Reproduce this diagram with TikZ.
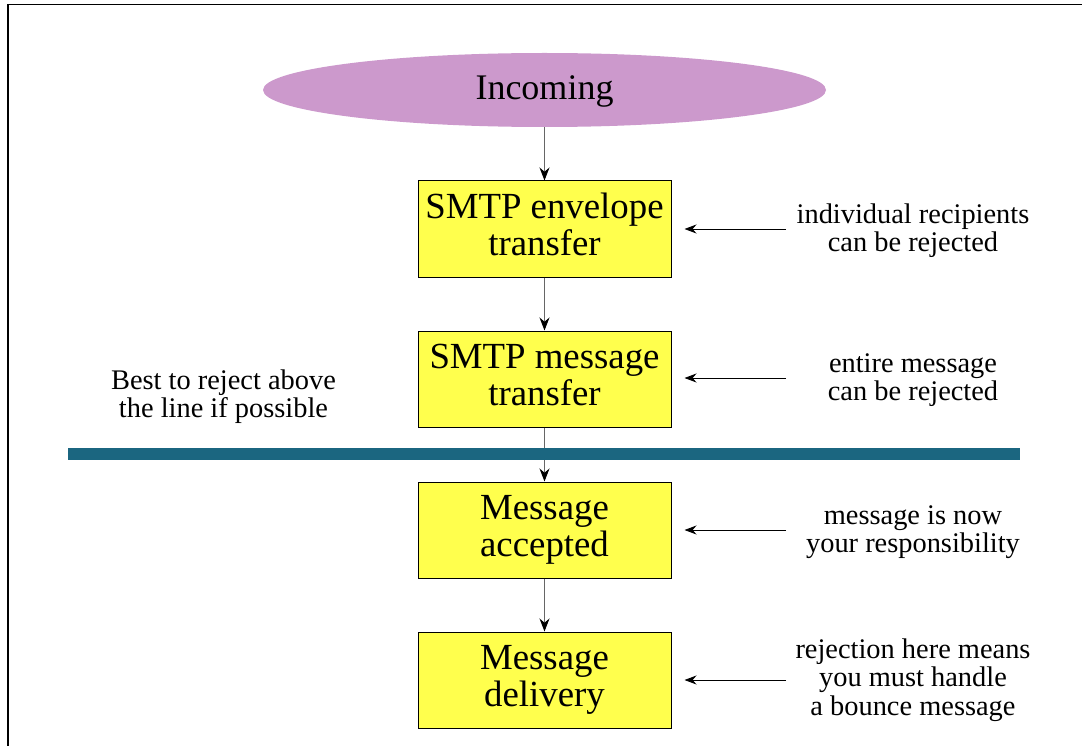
\documentclass[tikz,border=0pt]{standalone}
\usepackage{fontspec}
\setmainfont{Liberation Serif}
\usetikzlibrary{arrows.meta,shapes.geometric}
\definecolor{ellfill}{RGB}{204,153,204}
\definecolor{boxfill}{RGB}{255,255,77}
\definecolor{teal2}{RGB}{27,102,128}
\tikzset{
  stepbox/.style={draw=black,line width=1pt,fill=boxfill,minimum width=253pt,minimum height=96pt},
  boxtext/.style={anchor=base,align=center,inner sep=0pt,font=\fontsize{36.8}{37.5}\selectfont},
  sidelabel/.style={anchor=base,align=center,inner sep=0pt,font=\fontsize{28.4}{28.5}\selectfont},
  flow/.style={draw=black!60,line width=1pt,-{Stealth[black,length=13pt,width=10pt]}},
  sidearrow/.style={draw=black,line width=0.9pt,-{Stealth[black,length=12pt,width=9pt]},shorten >=13pt}
}
\begin{document}
\begin{tikzpicture}[x=1pt,y=-1pt]
\useasboundingbox (0,0) rectangle (1089,746);
% frame
\draw[line width=1.5pt,black] (8,746) -- (8,4.5) -- (1082,4.5);
% ellipse
\node[ellipse,fill=ellfill,minimum width=563pt,minimum height=74pt,inner sep=0pt] (inc) at (544.5,90) {};
\node[anchor=base,inner sep=0pt,font=\fontsize{36}{38}\selectfont] (inct) at (544.5,100) {Incoming};
% boxes
\node[stepbox] (b1) at (544.5,229) {};
\node[stepbox] (b2) at (544.5,379) {};
\node[stepbox] (b3) at (544.5,530) {};
\node[stepbox] (b4) at (544.5,680) {};
\node[boxtext] (t1) at (544.5,255.5) {SMTP envelope\\transfer};
\node[boxtext] (t2) at (544.5,405.5) {SMTP message\\transfer};
\node[boxtext] (t3) at (544.5,556.5) {Message\\accepted};
\node[boxtext] (t4) at (544.5,706.5) {Message\\delivery};
% flow arrows
\draw[flow] (inc.south) -- (b1.north);
\draw[flow] (b1.south) -- (b2.north);
\draw[flow] (b2.south) -- (b3.north);
\draw[flow] (b3.south) -- (b4.north);
% teal line
\coordinate (tl) at (68,454);
\coordinate (tr) at (1020,454);
\draw[teal2,line width=12pt] (tl) -- (tr);
% side labels
\node[sidelabel] (l1) at (913,251.5) {individual recipients\\can be rejected};
\node[sidelabel] (l2) at (913,400.5) {entire message\\can be rejected};
\node[sidelabel] (l3) at (913,552.5) {message is now\\your responsibility};
\node[sidelabel] (l4) at (913,715) {rejection here means\\you must handle\\a bounce message};
\coordinate (s1) at (786,229);
\coordinate (s2) at (786,378);
\coordinate (s3) at (786,530);
\coordinate (s4) at (786,680);
\draw[sidearrow] (s1) -- (b1.east |- s1);
\draw[sidearrow] (s2) -- (b2.east |- s2);
\draw[sidearrow] (s3) -- (b3.east |- s3);
\draw[sidearrow] (s4) -- (b4.east |- s4);
% left note
\node[sidelabel] (note) at (223.5,417.5) {Best to reject above\\the line if possible};
\end{tikzpicture}
\end{document}
